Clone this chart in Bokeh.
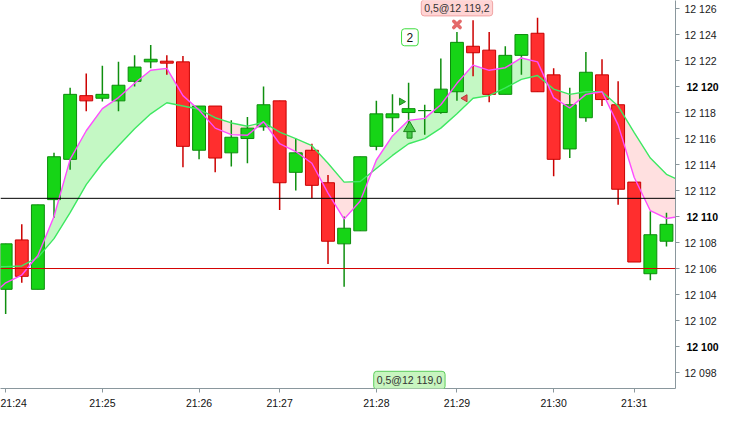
import numpy as np
from bokeh.plotting import figure
from bokeh.models import Range1d, FixedTicker, Span, Label, ColumnDataSource, LinearAxis
from bokeh.embed import file_html
from bokeh.resources import INLINE

# ---------------- data ----------------
time_labels = ["21:24", "21:25", "21:26", "21:27", "21:28", "21:29", "21:30", "21:31"]
time_tick_bars = [0, 6, 12, 17, 23, 28, 34, 39]

opens = [12104.4, 12108.2, 12104.4, 12111.3, 12114.4, 12119.3, 12119.1, 12118.9,
         12120.4, 12121.9, 12121.95, 12121.9, 12115.1, 12118.5, 12114.9, 12116.0,
         12116.9, 12118.9, 12113.4, 12115.1, 12112.6, 12107.9, 12108.9, 12115.4,
         12117.6, 12118.0, 12118.15, 12118.0, 12119.6, 12123.1, 12122.8, 12119.4,
         12122.4, 12124.1, 12120.9, 12115.2, 12117.6, 12120.9, 12118.6, 12112.65,
         12105.6, 12108.1]
highs = [12107.9, 12109.4, 12110.9, 12114.9, 12119.9, 12121.0, 12121.6, 12121.9,
         12122.4, 12123.2, 12122.4, 12122.35, 12118.5, 12118.5, 12117.4, 12117.65,
         12120.0, 12118.9, 12116.0, 12115.6, 12113.2, 12110.0, 12114.6, 12118.9,
         12119.4, 12120.3, 12118.6, 12122.15, 12124.2, 12125.1, 12124.2, 12123.1,
         12124.0, 12125.3, 12121.4, 12119.9, 12122.65, 12122.1, 12120.4, 12112.65,
         12110.4, 12110.3]
lows = [12102.5, 12104.9, 12104.4, 12109.9, 12113.6, 12118.1, 12118.85, 12118.1,
        12120.0, 12121.4, 12120.9, 12113.8, 12114.4, 12113.4, 12113.85, 12114.1,
        12116.6, 12110.5, 12112.0, 12111.4, 12106.35, 12104.6, 12108.9, 12115.1,
        12116.5, 12117.1, 12116.3, 12117.9, 12118.9, 12120.8, 12118.8, 12119.4,
        12120.9, 12119.6, 12113.1, 12114.5, 12117.3, 12118.5, 12110.9, 12106.5,
        12105.1, 12107.7]
closes = [12107.9, 12105.4, 12110.9, 12114.6, 12119.4, 12118.9, 12119.4, 12120.1,
          12121.5, 12122.1, 12121.8, 12115.4, 12118.5, 12114.5, 12116.1, 12116.8,
          12118.6, 12112.6, 12114.9, 12112.4, 12108.1, 12109.1, 12114.6, 12117.9,
          12117.9, 12118.3, 12118.15, 12119.8, 12123.4, 12122.6, 12119.4, 12122.4,
          12124.0, 12119.6, 12114.4, 12118.6, 12121.1, 12119.0, 12112.1, 12106.5,
          12108.6, 12109.4]

# moving averages, bars -1 .. 42
ma_bars = list(range(-1, 43))
fast_ma = [12103.8, 12104.9, 12105.5, 12107.0, 12110.0, 12114.4, 12116.6, 12118.3,
           12119.15, 12120.25, 12121.25, 12121.4, 12119.3, 12118.2, 12116.8, 12116.3,
           12116.25, 12117.3, 12115.6, 12115.0, 12114.1, 12111.8, 12109.8, 12111.2,
           12114.35, 12116.2, 12117.4, 12117.55, 12118.6, 12120.25, 12121.65, 12121.25,
           12121.45, 12122.2, 12121.9, 12119.15, 12118.35, 12119.4, 12119.6, 12117.05,
           12113.0, 12110.45, 12109.85, 12110.05]
slow_ma = [12106.1, 12106.15, 12106.2, 12106.85, 12108.3, 12110.3, 12112.45, 12114.1,
           12115.45, 12116.75, 12117.9, 12118.75, 12118.5, 12118.25, 12117.6, 12117.2,
           12116.95, 12117.25, 12116.5, 12116.0, 12115.45, 12114.1, 12112.65, 12112.7,
           12113.7, 12114.7, 12115.6, 12116.0, 12116.8, 12117.9, 12119.1, 12119.3,
           12119.9, 12120.55, 12120.85, 12119.8, 12119.4, 12119.6, 12119.6, 12118.5,
           12116.45, 12114.5, 12113.25, 12112.67]
fill_start_bar = 2

level_black = 12111.4
level_red = 12106.0

y_ticks = [12098, 12100, 12102, 12104, 12106, 12108, 12110, 12112,
           12114, 12116, 12118, 12120, 12122, 12124, 12126]
y_tick_labels = ["12 098", "12 100", "12 102", "12 104", "12 106", "12 108", "12 110", "12 112",
                 "12 114", "12 116", "12 118", "12 120", "12 122", "12 124", "12 126"]
bold_ticks = [12100, 12110, 12120]

# order annotations
sell_label = "0,5@12 119,2"
sell_label_bar, sell_label_y = 28, 12126.05
sell_mark_bar, sell_mark_y = 28, 12124.78
buy_label = "0,5@12 119,0"
buy_label_bar, buy_label_y = 25.05, 12097.4
count_label = "2"
count_bar, count_y = 25.08, 12123.79
arrow_bar, arrow_head_y, arrow_stem_y = 25.06, 12116.8, 12116.3
green_tri_bar, green_tri_y = 24.56, 12118.84
red_tri_bar, red_tri_y = 28.5, 12119.1

# ---------------- figure ----------------
X0, X1 = -0.32, 41.56
Y0, Y1 = 12096.77, 12126.62
FONT = "Liberation Sans"
AX_COLOR = "#8a979d"

p = figure(width=724, height=411, output_backend="svg", toolbar_location=None,
           x_range=Range1d(X0, X1), y_range=Range1d(Y0, Y1),
           y_axis_location="right",
           min_border_left=0, min_border_top=0, min_border_right=49, min_border_bottom=21)
p.grid.visible = False
p.outline_line_color = None
p.background_fill_color = "white"
p.border_fill_color = "white"

# fill between moving averages (split at crossings)
mb = np.array(ma_bars, dtype=float)
f = np.array(fast_ma)
s = np.array(slow_ma)
k0 = ma_bars.index(fill_start_bar)
xs, fs, ss = [mb[k0]], [f[k0]], [s[k0]]
for k in range(k0, len(mb) - 1):
    d0 = f[k] - s[k]
    d1 = f[k + 1] - s[k + 1]
    if d0 * d1 < 0:
        t = d0 / (d0 - d1)
        xc = mb[k] + t * (mb[k + 1] - mb[k])
        yc = s[k] + t * (s[k + 1] - s[k])
        xs.append(xc); fs.append(yc); ss.append(yc)
    xs.append(mb[k + 1]); fs.append(f[k + 1]); ss.append(s[k + 1])
xs = np.array(xs); fs = np.array(fs); ss = np.array(ss)
p.varea(x=xs, y1=ss, y2=np.maximum(fs, ss), fill_color="#c4f8c4")
p.varea(x=xs, y1=np.minimum(fs, ss), y2=ss, fill_color="#ffe0e0")

# candles
bars = np.arange(len(opens))
o = np.array(opens); c = np.array(closes); h = np.array(highs); l = np.array(lows)
up = c >= o
dn = ~up
src_up = ColumnDataSource(dict(x=bars[up], top=c[up], bottom=o[up], high=h[up], low=l[up]))
src_dn = ColumnDataSource(dict(x=bars[dn], top=o[dn], bottom=c[dn], high=h[dn], low=l[dn]))

p.segment(x0="x", y0="high", x1="x", y1="low", source=src_up, line_color="#0f8f0f", line_width=1.5)
p.segment(x0="x", y0="high", x1="x", y1="low", source=src_dn, line_color="#cc0000", line_width=1.5)
p.vbar(x="x", top="top", bottom="bottom", width=0.8, source=src_up,
       fill_color="#16d416", line_color="#0c8c0c", line_width=1)
p.vbar(x="x", top="top", bottom="bottom", width=0.8, source=src_dn,
       fill_color="#ff2e2e", line_color="#c80000", line_width=1)

# moving average lines
p.line(ma_bars, slow_ma, line_color="#3ee862", line_width=1.4)
p.line(ma_bars, fast_ma, line_color="#ff4cff", line_width=1.4)

# horizontal levels
p.add_layout(Span(location=level_black, dimension="width", line_color="#000000", line_width=1))
p.add_layout(Span(location=level_red, dimension="width", line_color="#d40000", line_width=1))

# order markers
p.rect(x=[arrow_bar], y=[arrow_stem_y], width=5, height=7, width_units="screen", height_units="screen",
       fill_color="#4ccc4c", line_color="#1a8a1a", line_width=1)
p.scatter(x=[arrow_bar], y=[arrow_head_y], marker="triangle", size=12,
          fill_color="#4ccc4c", line_color="#1a8a1a", line_width=1)
p.scatter(x=[green_tri_bar], y=[green_tri_y], marker="triangle", size=7, angle=-np.pi / 2,
          fill_color="#33bb33", line_color="#228822", line_width=1)
p.scatter(x=[red_tri_bar], y=[red_tri_y], marker="triangle", size=7, angle=np.pi / 2,
          fill_color="#e85555", line_color="#b83333", line_width=1)
p.scatter(x=[sell_mark_bar], y=[sell_mark_y], marker="x", size=9, line_width=3.5,
          line_color="#e46a6a", line_cap="round")

p.add_layout(Label(x=sell_label_bar, y=sell_label_y, text=sell_label, text_align="center",
                   text_baseline="middle", text_font=FONT, text_font_size="10.5px",
                   text_color="#333333", background_fill_color="#ffd4d4",
                   border_line_color="#f0a4a4", border_line_width=1,
                   padding=(3, 2), border_radius=3))
p.add_layout(Label(x=buy_label_bar, y=buy_label_y, text=buy_label, text_align="center",
                   text_baseline="middle", text_font=FONT, text_font_size="10.5px",
                   text_color="#333333", background_fill_color="#c8f5c0",
                   border_line_color="#5ccc5c", border_line_width=1,
                   padding=(3, 3), border_radius=3))
p.add_layout(Label(x=count_bar, y=count_y, text=count_label, text_align="center",
                   text_baseline="middle", text_font=FONT, text_font_size="12px",
                   text_color="#111111", background_fill_color="white",
                   border_line_color="#3ddd3d", border_line_width=1,
                   padding=(5, 4), border_radius=3))

# axes
ax = p.xaxis[0]
ax.ticker = FixedTicker(ticks=time_tick_bars)
ax.major_label_overrides = {b: t for b, t in zip(time_tick_bars, time_labels)}
ax.minor_tick_line_color = None
ax.major_tick_out = 4
ax.major_tick_in = 0
ax.axis_line_color = AX_COLOR
ax.major_tick_line_color = AX_COLOR
ax.major_label_text_font = FONT
ax.major_label_text_font_size = "10.5px"
ax.major_label_text_color = "#111111"
ax.major_label_standoff = 4

ay = p.yaxis[0]
ay.ticker = FixedTicker(ticks=y_ticks)
ay.major_label_overrides = {t: ("" if t in bold_ticks else lab) for t, lab in zip(y_ticks, y_tick_labels)}
ay.minor_tick_line_color = None
ay.major_tick_out = 4
ay.major_tick_in = 0
ay.axis_line_color = AX_COLOR
ay.major_tick_line_color = AX_COLOR
ay.major_label_text_font = FONT
ay.major_label_text_font_size = "10.5px"
ay.major_label_text_color = "#1a1a1a"
ay.major_label_standoff = 5

# second right axis carrying only the bold labels, pulled back over the first one
ay_bold = LinearAxis(
    ticker=FixedTicker(ticks=bold_ticks),
    major_label_overrides={t: lab for t, lab in zip(y_ticks, y_tick_labels) if t in bold_ticks},
    axis_line_color=None, major_tick_line_color=None, minor_tick_line_color=None,
    major_tick_out=0, major_tick_in=0, major_label_standoff=-33,
    major_label_text_font=FONT, major_label_text_font_size="10.5px",
    major_label_text_font_style="bold", major_label_text_color="#000000")
p.add_layout(ay_bold, "right")

open("out.html", "w").write(file_html(p, INLINE))
